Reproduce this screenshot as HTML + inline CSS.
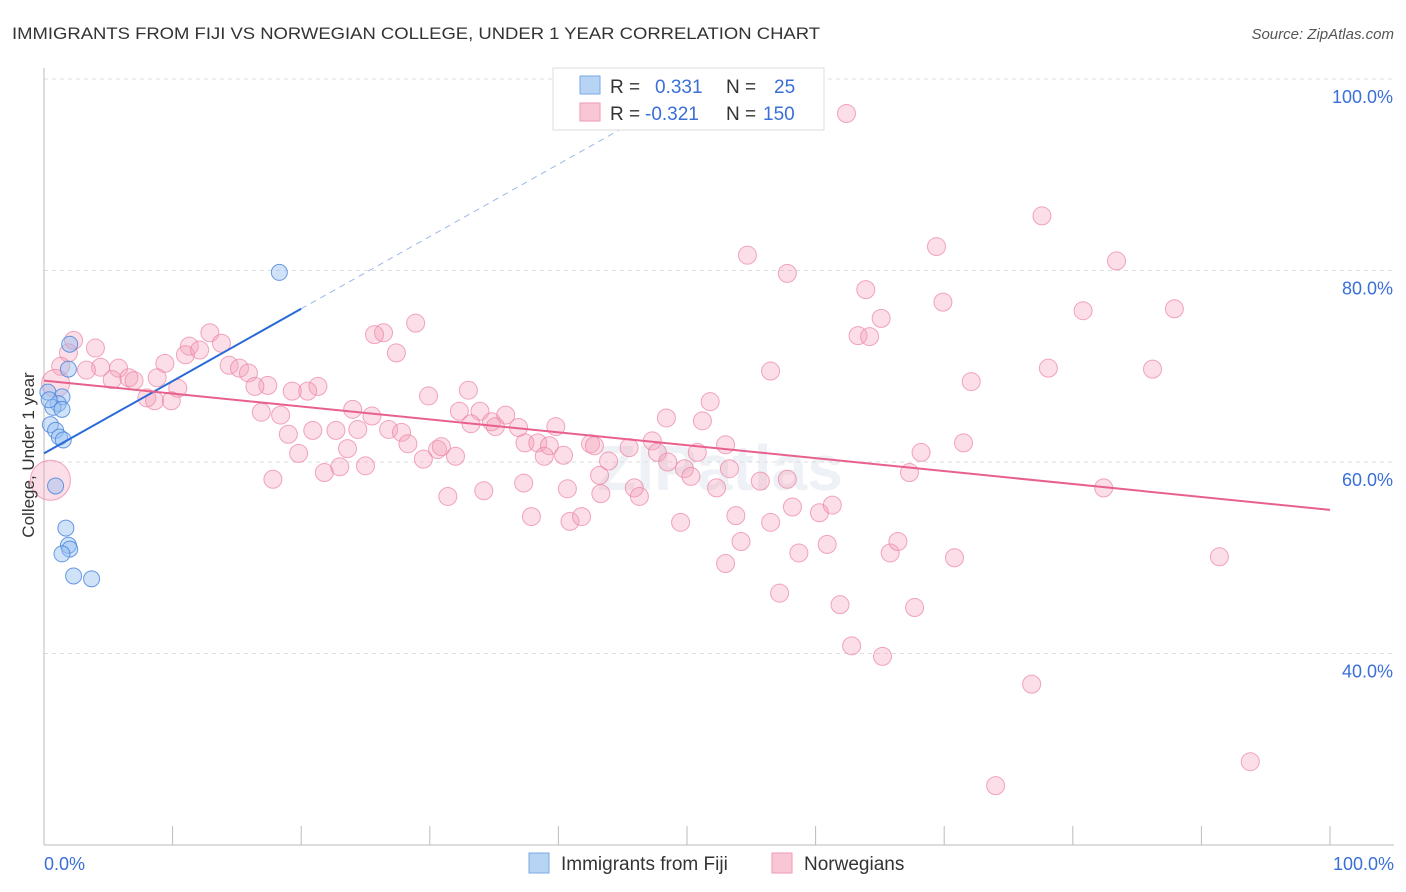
<!DOCTYPE html>
<html><head><meta charset="utf-8"><style>
body{margin:0;background:#fff;font-family:"Liberation Sans",sans-serif;}
svg{display:block}
</style></head><body>
<svg id="chart" width="1406" height="892">
<text x="12" y="39" font-size="17" fill="#333" textLength="808" lengthAdjust="spacingAndGlyphs">IMMIGRANTS FROM FIJI VS NORWEGIAN COLLEGE, UNDER 1 YEAR CORRELATION CHART</text>
<text x="1394" y="39" font-size="15" fill="#555" font-style="italic" text-anchor="end">Source: ZipAtlas.com</text>
<text x="720" y="490" font-size="64" fill="#eef1f6" text-anchor="middle" font-weight="bold">ZIPatlas</text>
<g id="grid"></g>
<g id="axes"></g>
<g id="pts"></g>
<g id="trends"></g>
<text transform="translate(34,455) rotate(-90)" font-size="17" fill="#333" text-anchor="middle">College, Under 1 year</text>
<g>
<rect x="553" y="68" width="271" height="62" fill="#fff" stroke="#ddd"/>
<rect x="580" y="76" width="20" height="18" fill="#b8d4f5" stroke="#7aaae6"/>
<text x="610" y="93" font-size="19" fill="#333">R =</text>
<text x="655" y="93" font-size="19" fill="#3a6fd8">0.331</text>
<text x="726" y="93" font-size="19" fill="#333">N =</text>
<text x="774" y="93" font-size="19" fill="#3a6fd8">25</text>
<rect x="580" y="103" width="20" height="18" fill="#f9c6d5" stroke="#ee9ab3"/>
<text x="610" y="120" font-size="19" fill="#333">R =</text>
<text x="645" y="120" font-size="19" fill="#3a6fd8">-0.321</text>
<text x="726" y="120" font-size="19" fill="#333">N =</text>
<text x="763" y="120" font-size="19" fill="#3a6fd8">150</text>
</g>
<g>
<rect x="529" y="853" width="20" height="20" fill="#b8d4f5" stroke="#7aaae6"/>
<text x="561" y="870" font-size="19" fill="#333">Immigrants from Fiji</text>
<rect x="772" y="853" width="20" height="20" fill="#f9c6d5" stroke="#ee9ab3"/>
<text x="804" y="870" font-size="19" fill="#333">Norwegians</text>
</g>
</svg>
<script>
const yTicks=[100,80,60,40];
const yTickLabels=["100.0%","80.0%","60.0%","40.0%"];
const xTickLabels=["0.0%","100.0%"];
const fijiX=[18.3,2.0,1.9,0.3,1.4,1.1,0.7,1.4,0.5,0.9,1.2,1.5,0.9,1.7,1.9,2.0,1.4,2.3,3.7,0.4];
const fijiY=[79.8,72.3,69.7,67.3,66.8,66.1,65.7,65.5,63.9,63.3,62.6,62.3,57.5,53.1,51.3,50.9,50.4,48.1,47.8,66.5];
const norX=[62.4,77.6,69.4,54.7,83.4,57.8,63.9,69.9,80.8,87.9,65.1,26.4,25.7,63.3,64.2,28.9,27.4,2.3,1.9,4.0,1.3,11.3,12.9,13.8,11.0,12.1,14.4,15.2,15.9,5.8,4.4,3.3,9.4,6.6,5.3,7.0,8.8,10.4,17.4,16.4,21.3,20.5,19.3,8.0,8.6,9.9,56.5,78.1,72.1,86.2,33.0,29.9,51.8,16.9,18.4,24.0,25.5,32.3,33.9,34.8,35.9,33.2,35.1,36.9,19.0,20.9,22.7,24.4,26.8,27.8,28.3,30.6,30.9,32.0,29.5,23.6,19.8,39.8,37.4,38.4,39.3,40.4,38.9,42.5,42.8,43.2,43.9,45.5,47.3,47.7,48.4,51.2,50.8,48.5,53.0,71.5,68.2,67.3,49.8,50.3,53.3,55.7,52.3,45.9,46.3,43.3,40.7,40.9,41.8,37.3,34.2,31.4,37.9,17.8,21.8,23.0,25.0,57.8,58.2,60.3,56.5,53.8,49.5,54.2,60.9,58.7,65.8,66.4,70.8,53.0,57.2,61.9,67.7,62.8,65.2,76.8,82.4,91.4,74.0,93.8,61.3,0.9];
const norY=[96.4,85.7,82.5,81.6,81.0,79.7,78.0,76.7,75.8,76.0,75.0,73.5,73.3,73.2,73.1,74.5,71.4,72.7,71.4,71.9,70.0,72.1,73.5,72.4,71.2,71.7,70.1,69.8,69.3,69.8,69.9,69.6,70.3,68.8,68.6,68.5,68.8,67.7,68.0,67.9,67.9,67.4,67.4,66.7,66.4,66.4,69.5,69.8,68.4,69.7,67.5,66.9,66.3,65.2,64.9,65.5,64.8,65.3,65.3,64.2,64.9,64.0,63.7,63.6,62.9,63.3,63.3,63.4,63.4,63.1,61.9,61.3,61.6,60.6,60.3,61.4,60.9,63.7,62.0,62.0,61.7,60.7,60.6,61.9,61.7,58.6,60.1,61.5,62.2,61.0,64.6,64.3,61.0,60.0,61.8,62.0,61.0,58.9,59.3,58.5,59.3,58.0,57.3,57.3,56.4,56.7,57.2,53.8,54.3,57.8,57.0,56.4,54.3,58.2,58.9,59.5,59.6,58.2,55.3,54.7,53.7,54.4,53.7,51.7,51.4,50.5,50.5,51.7,50.0,49.4,46.3,45.1,44.8,40.8,39.7,36.8,57.3,50.1,26.2,28.7,55.5,68.2];
const fijiTrend=[60.9,76.0];  // y at x=0 and x=20
const norTrend=[68.5,55.0];   // y at x=0 and x=100
const NS="http://www.w3.org/2000/svg";
const X=v=>44+v*12.86, Y=v=>79+(100-v)*9.575;
function mk(tag,attrs,parent){const e=document.createElementNS(NS,tag);for(const k in attrs)e.setAttribute(k,attrs[k]);document.getElementById(parent).appendChild(e);return e;}
yTicks.forEach((t,i)=>{
 const l=mk('line',{x1:44,x2:1394,y1:Y(t),y2:Y(t),stroke:'#ddd','stroke-dasharray':'4,4'},'grid');
 
 
 const tx=mk('text',{x:1393,y:Y(t)+24,'font-size':18,fill:'#3a6fd8','text-anchor':'end'},'grid');
 tx.textContent=yTickLabels[i];
 
 
});
const ax=mk('line',{x1:44,x2:44,y1:68,y2:845,stroke:'#bbb'},'axes');


const bx=mk('line',{x1:44,x2:1394,y1:845,y2:845,stroke:'#bbb'},'axes');


for(let i=0;i<=10;i++){const t=mk('line',{x1:X(i*10),x2:X(i*10),y1:826,y2:845,stroke:'#bbb'},'axes');
 
 }
[[0,'start',44],[100,'end',1394]].forEach((a,i)=>{const t=mk('text',{x:a[2],y:870,'font-size':18,fill:'#3a6fd8','text-anchor':a[1]},'axes');t.textContent=xTickLabels[i];
 
 });
norX.forEach((x,i)=>{const r=(i===norX.length-1)?14:9;const c=mk('circle',{cx:X(x),cy:Y(norY[i]),r:r,fill:'rgba(244,160,186,0.35)',stroke:'rgba(236,130,162,0.7)'},'pts');
 
 });
const big=mk('circle',{cx:X(0.5),cy:Y(58.1),r:20,fill:'rgba(244,160,186,0.35)',stroke:'rgba(236,130,162,0.7)'},'pts');


fijiX.forEach((x,i)=>{const c=mk('circle',{cx:X(x),cy:Y(fijiY[i]),r:8,fill:'rgba(150,190,240,0.45)',stroke:'rgba(70,130,220,0.8)'},'pts');
 
 });
const slope=(fijiTrend[1]-fijiTrend[0])/20;
const fl=mk('line',{x1:X(0),y1:Y(fijiTrend[0]),x2:X(20),y2:Y(fijiTrend[1]),stroke:'#2a6ad8','stroke-width':2},'trends');


const fd=mk('line',{x1:X(20),y1:Y(fijiTrend[1]),x2:X(45),y2:Y(fijiTrend[0]+slope*45),stroke:'#9ab8e8','stroke-width':1,'stroke-dasharray':'6,5'},'trends');


const nl=mk('line',{x1:X(0),y1:Y(norTrend[0]),x2:X(100),y2:Y(norTrend[1]),stroke:'#e8608c','stroke-width':2},'trends');


</script>
</body></html>
